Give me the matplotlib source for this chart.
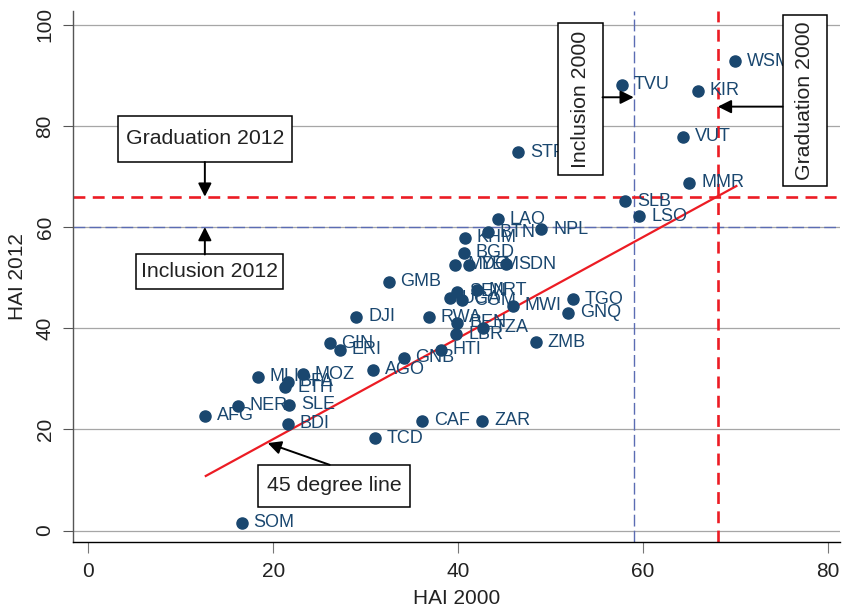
import matplotlib
matplotlib.use("Agg")
import matplotlib.pyplot as plt
from matplotlib.patches import Rectangle

plt.rcParams['font.family'] = ['Liberation Sans', 'DejaVu Sans']

# Country codes and Human Assets Index scores
codes = ["WSM", "TVU", "KIR", "VUT", "STP", "MMR", "SLB", "LSO", "LAO", "NPL",
         "BTN", "KHM", "BGD", "MDG", "YEM", "SDN", "GMB", "SEN", "MRT", "UGA",
         "COM", "MWI", "TGO", "GNQ", "DJI", "RWA", "BEN", "TZA", "LBR", "ZMB",
         "GIN", "ERI", "HTI", "GNB", "AGO", "MLI", "MOZ", "BFA", "ETH", "NER",
         "SLE", "AFG", "BDI", "CAF", "ZAR", "TCD", "SOM"]
hai_2000 = [70.0, 57.7, 65.9, 64.3, 46.5, 65.0, 58.1, 59.6, 44.3, 49.0,
            43.2, 40.7, 40.6, 39.7, 41.2, 45.2, 32.5, 39.9, 42.0, 39.1,
            40.4, 45.9, 52.4, 51.9, 29.0, 36.8, 39.9, 42.7, 39.8, 48.4,
            26.1, 27.2, 38.1, 34.1, 30.8, 18.3, 23.2, 21.6, 21.3, 16.2,
            21.7, 12.6, 21.6, 36.1, 42.6, 31.0, 16.6]
hai_2012 = [92.8, 88.1, 86.9, 77.8, 74.8, 68.8, 65.1, 62.1, 61.5, 59.6,
            59.0, 57.9, 54.9, 52.5, 52.5, 52.6, 49.2, 47.2, 47.5, 45.9,
            45.5, 44.4, 45.7, 43.1, 42.3, 42.2, 41.1, 40.1, 38.8, 37.2,
            37.0, 35.7, 35.7, 34.2, 31.8, 30.4, 30.9, 29.4, 28.3, 24.7,
            24.9, 22.7, 21.1, 21.7, 21.7, 18.3, 1.6]

# LDC thresholds
inclusion_2000, graduation_2000 = 59.0, 68.1
inclusion_2012, graduation_2012 = 60.0, 66.0

# Reference line endpoints
diag_x = [12.7, 70.1]
diag_y = [10.8, 68.1]

x_ticks = [0, 20, 40, 60, 80]
y_ticks = [0, 20, 40, 60, 80, 100]

navy = "#1a476f"
red = "#ec1c24"
blue = "#5b6cb3"
grid_gray = "#a6a6a6"
ink = "#222222"

fig = plt.figure(figsize=(8.47, 6.12), dpi=100)
ax = fig.add_axes([0.0858, 0.114, 0.9058, 0.868])
ax.set_xlim(-1.7, 81.3)
ax.set_ylim(-2.3, 102.7)

ax.set_yticks(y_ticks)
ax.set_xticks(x_ticks)
for yv in y_ticks:
    ax.axhline(yv, color=grid_gray, lw=0.9, zorder=0)

# Threshold lines
ax.axhline(inclusion_2012, color=blue, lw=1.0, dashes=(8.5, 3), zorder=1)
ax.axvline(inclusion_2000, color=blue, lw=1.0, dashes=(8.5, 3), zorder=1)
ax.axhline(graduation_2012, color=red, lw=1.9, dashes=(4.5, 2.8), zorder=1)
ax.axvline(graduation_2000, color=red, lw=1.9, dashes=(4.5, 2.8), zorder=1)

# Country markers and labels
ax.plot(hai_2000, hai_2012, 'o', color=navy, markersize=8, zorder=3)
for c, xv, yv in zip(codes, hai_2000, hai_2012):
    ax.annotate(c, (xv, yv), xytext=(8.5, 0), textcoords='offset points',
                va='center', ha='left', color=navy, fontsize=13, zorder=4)

ax.plot(diag_x, diag_y, color=red, lw=1.6, zorder=2)

arrow = dict(arrowstyle='-|>', color='black', lw=1.4, mutation_scale=20,
             shrinkA=0, shrinkB=0)


def callout(x0, x1, y0, y1, label, rotation=0):
    """Framed white text box spanning the given data rectangle."""
    ax.add_patch(Rectangle((x0, y0), x1 - x0, y1 - y0, fc='white', ec='black',
                           lw=1.1, zorder=5))
    ax.text((x0 + x1) / 2, (y0 + y1) / 2, label, fontsize=15.3, ha='center',
            va='center', rotation=rotation, color=ink, zorder=6)


callout(3.18, 22.08, 72.85, 81.97, "Graduation 2012")
ax.annotate("", xy=(12.6, graduation_2012), xytext=(12.6, 72.85), arrowprops=arrow, zorder=5)

callout(5.13, 21.0, 47.68, 54.58, "Inclusion 2012")
ax.annotate("", xy=(12.6, inclusion_2012), xytext=(12.6, 54.58), arrowprops=arrow, zorder=5)

callout(18.36, 34.77, 4.67, 13.0, "45 degree line")
ax.annotate("", xy=(19.4, 17.3), xytext=(26.1, 13.0), arrowprops=arrow, zorder=5)

callout(50.82, 55.62, 70.34, 100.24, "Inclusion 2000", rotation=90)
ax.annotate("", xy=(inclusion_2000, 85.65), xytext=(55.62, 85.65), arrowprops=arrow, zorder=5)

callout(75.1, 79.92, 68.04, 101.87, "Graduation 2000", rotation=90)
ax.annotate("", xy=(graduation_2000, 83.8), xytext=(75.1, 83.8), arrowprops=arrow, zorder=5)

# Axes styling
for s in ['top', 'right']:
    ax.spines[s].set_visible(False)
ax.spines['left'].set_color('#555555')
ax.spines['bottom'].set_color('black')
ax.spines['left'].set_linewidth(1.0)
ax.spines['bottom'].set_linewidth(1.0)
ax.tick_params(axis='y', length=7, color='#555555', labelsize=15, pad=6,
               labelrotation=90, labelcolor=ink)
ax.tick_params(axis='x', length=8, color='#777777', labelsize=15, pad=6,
               labelcolor=ink)
for lab in ax.get_yticklabels():
    lab.set_va('center')

ax.set_xlabel("HAI 2000", fontsize=15, color=ink, labelpad=6)
ax.set_ylabel("HAI 2012", fontsize=15, color=ink, labelpad=6)

fig.savefig("out.png", dpi=100)
